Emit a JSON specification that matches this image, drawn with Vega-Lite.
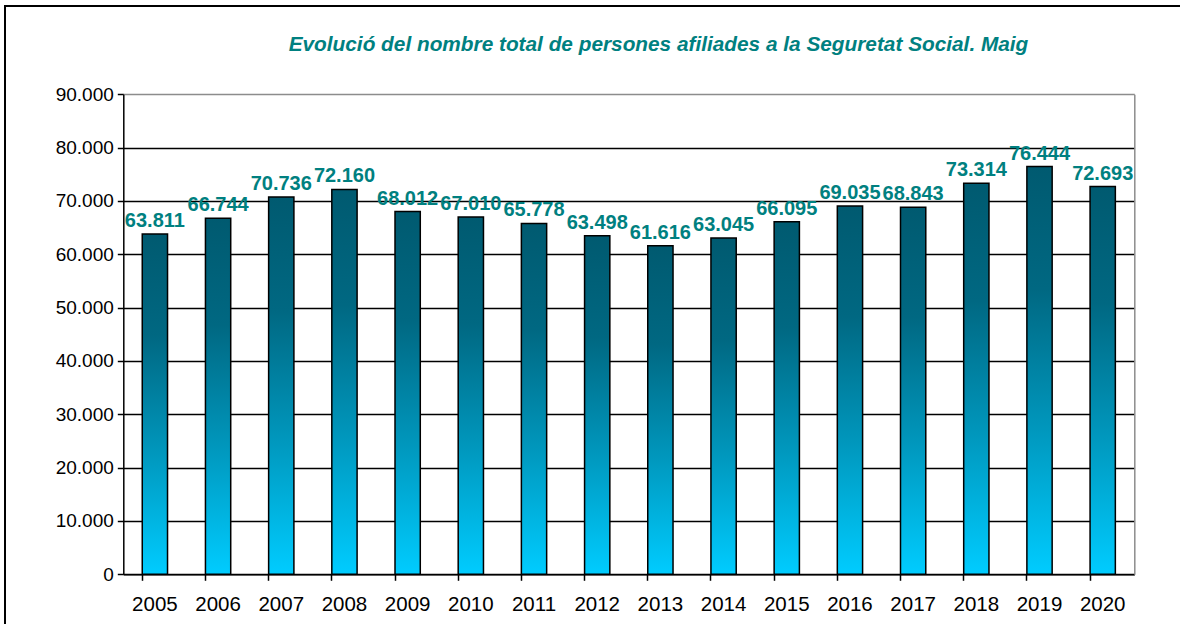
{
  "$schema": "https://vega.github.io/schema/vega-lite/v6.json",
  "width": 1185,
  "height": 628,
  "autosize": {"type": "none"},
  "padding": {"left": 5, "top": 6, "right": -10, "bottom": -10},
  "background": "white",
  "title": {
    "text": "Evolució del nombre total de persones  afiliades a la Seguretat Social. Maig",
    "font": "Liberation Sans",
    "fontSize": 20.8,
    "fontWeight": "bold",
    "fontStyle": "italic",
    "color": "#008080",
    "anchor": "middle",
    "dx": 61,
    "offset": -70,
    "baseline": "bottom"
  },
  "data": {
    "values": [
      {"year": "2005", "value": 63811},
      {"year": "2006", "value": 66744},
      {"year": "2007", "value": 70736},
      {"year": "2008", "value": 72160},
      {"year": "2009", "value": 68012},
      {"year": "2010", "value": 67010},
      {"year": "2011", "value": 65778},
      {"year": "2012", "value": 63498},
      {"year": "2013", "value": 61616},
      {"year": "2014", "value": 63045},
      {"year": "2015", "value": 66095},
      {"year": "2016", "value": 69035},
      {"year": "2017", "value": 68843},
      {"year": "2018", "value": 73314},
      {"year": "2019", "value": 76444},
      {"year": "2020", "value": 72693}
    ]
  },
  "config": {
    "view": {"stroke": "black", "strokeWidth": 2},
    "locale": {
      "number": {"decimal": ",", "thousands": ".", "grouping": [3], "currency": ["", " €"]}
    },
    "axis": {
      "labelFont": "Liberation Sans",
      "labelColor": "black",
      "domainColor": "black",
      "domainWidth": 1.5,
      "tickColor": "black",
      "tickWidth": 1.5,
      "title": null
    }
  },
  "layer": [
    {
      "mark": {
        "type": "bar",
        "color": {
          "gradient": "linear",
          "x1": 0, "y1": 0, "x2": 0, "y2": 1,
          "stops": [
            {"offset": 0, "color": "#005A70"},
            {"offset": 0.3, "color": "#006882"},
            {"offset": 0.65, "color": "#0098BE"},
            {"offset": 1, "color": "#00CCFF"}
          ]
        },
        "stroke": "black",
        "strokeWidth": 1.5
      },
      "encoding": {
        "x": {
          "field": "year",
          "type": "ordinal",
          "scale": {"range": [118.3, 1129.3], "paddingInner": 0.6, "paddingOuter": 0.3},
          "axis": {
            "orient": "bottom",
            "offset": -59.7,
            "ticks": false,
            "domain": true,
            "labelPadding": 20,
            "labelFontSize": 20.5,
            "labelAngle": 0
          }
        },
        "y": {
          "field": "value",
          "type": "quantitative",
          "scale": {"domain": [0, 90000], "range": [568.3, 88.3], "nice": false, "zero": true},
          "axis": {
            "orient": "left",
            "offset": -118.3,
            "values": [0, 10000, 20000, 30000, 40000, 50000, 60000, 70000, 80000, 90000],
            "format": ",d",
            "grid": true,
            "gridColor": {"condition": {"test": "datum.value === 90000", "value": "#8c8c8c"}, "value": "black"},
            "gridWidth": 1.5,
            "tickSize": 6,
            "labelFontSize": 19,
            "labelPadding": 4
          }
        }
      }
    },
    {
      "mark": {
        "type": "text",
        "font": "Liberation Sans",
        "fontSize": 20,
        "fontWeight": "bold",
        "color": "#008080",
        "baseline": "bottom",
        "dy": -3
      },
      "encoding": {
        "x": {
          "field": "year",
          "type": "ordinal",
          "axis": {
            "orient": "bottom",
            "offset": -59.7,
            "bandPosition": 0,
            "labels": false,
            "domain": false,
            "ticks": true,
            "tickSize": 6
          }
        },
        "y": {
          "field": "value",
          "type": "quantitative",
          "axis": {
            "orient": "right",
            "offset": -55.7,
            "labels": false,
            "ticks": false,
            "grid": false,
            "domainColor": "#8c8c8c"
          }
        },
        "text": {"field": "value", "type": "quantitative", "format": ",d"}
      }
    }
  ],
  "resolve": {"axis": {"x": "independent", "y": "independent"}}
}
